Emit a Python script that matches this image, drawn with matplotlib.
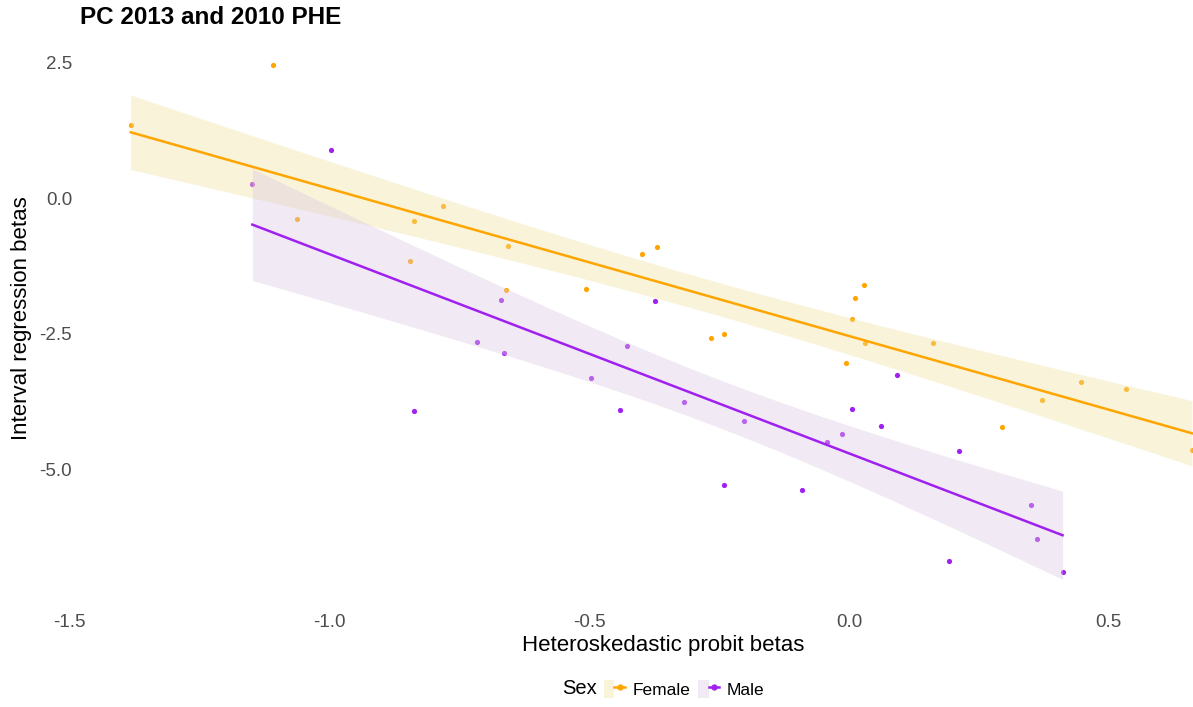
import numpy as np
import matplotlib
matplotlib.use("Agg")
import matplotlib.pyplot as plt
from matplotlib.lines import Line2D
from matplotlib.patches import Patch
from matplotlib.legend_handler import HandlerTuple

plt.rcParams['font.family'] = ['Liberation Sans', 'DejaVu Sans']
plt.rcParams['axes.unicode_minus'] = False

# data
female_x = [-1.382, -1.109, -1.063, -0.845, -0.837, -0.782, -0.660, -0.656,
            -0.506, -0.398, -0.370, -0.266, -0.241, -0.006, 0.006, 0.012,
            0.029, 0.031, 0.162, 0.295, 0.372, 0.447, 0.533, 0.660]
female_y = [1.342, 2.445, -0.386, -1.158, -0.423, -0.147, -1.691, -0.882,
            -1.673, -1.029, -0.901, -2.574, -2.500, -3.033, -2.224, -1.838,
            -1.599, -2.665, -2.665, -4.210, -3.713, -3.382, -3.511, -4.632]
male_x = [-1.148, -0.997, -0.837, -0.716, -0.669, -0.664, -0.496, -0.441,
          -0.427, -0.374, -0.317, -0.241, -0.202, -0.091, -0.043, -0.013,
          0.005, 0.062, 0.092, 0.212, 0.192, 0.351, 0.362, 0.411]
male_y = [0.252, 0.888, -3.915, -2.647, -1.881, -2.849, -3.314, -3.892,
          -2.721, -1.893, -3.756, -5.276, -4.105, -5.373, -4.491, -4.333,
          -3.879, -4.186, -3.254, -4.656, -6.673, -5.643, -6.281, -6.875]

x_ticks = [-1.5, -1.0, -0.5, 0.0, 0.5]
y_ticks = [2.5, 0.0, -2.5, -5.0]

series = [
    ("Female", female_x, female_y, "#FFA500", "#F0E1A0"),
    ("Male", male_x, male_y, "#A020F0", "#DCCAE1"),
]


def lm_band(x, y, t=2.074):
    x = np.asarray(x)
    y = np.asarray(y)
    b, a = np.polyfit(x, y, 1)
    n = len(x)
    resid = y - (a + b * x)
    s = np.sqrt(np.sum(resid ** 2) / (n - 2))
    xs = np.linspace(x.min(), x.max(), 80)
    fit = a + b * xs
    se = s * np.sqrt(1.0 / n + (xs - x.mean()) ** 2 / np.sum((x - x.mean()) ** 2))
    return xs, fit, fit - t * se, fit + t * se


W, H = 1193, 707
fig = plt.figure(figsize=(W / 100, H / 100), dpi=100)
ax = fig.add_axes([59 / W, 1 - 597 / H, (W - 59) / W, (597 - 40) / H])

handles = []
for name, xv, yv, col, fill in series:
    ax.scatter(xv, yv, s=14, color=col, linewidths=0, zorder=1)
    xs, fit, lo, hi = lm_band(xv, yv)
    ax.fill_between(xs, lo, hi, color=fill, alpha=0.4, linewidth=0, zorder=2)
    ax.plot(xs, fit, color=col, lw=1.8, zorder=3)
    handles.append((Patch(facecolor=fill, alpha=0.4, edgecolor='none'),
                    Line2D([], [], color=col, lw=1.8, marker='o', markersize=3.5)))

ax.set_xlim(-1.52, 0.662)
ax.set_ylim(-7.34, 2.91)
ax.set_xticks(x_ticks)
ax.set_xticklabels([f"{v:.1f}" for v in x_ticks])
ax.set_yticks(y_ticks)
ax.set_yticklabels([f"{v:.1f}" for v in y_ticks])
ax.tick_params(length=0, labelsize=13.5, labelcolor='#4d4d4d')
ax.tick_params(axis='x', pad=12)
ax.tick_params(axis='y', pad=-9.4)
for sp in ax.spines.values():
    sp.set_visible(False)

fig.text(663 / W, 1 - 645 / H, "Heteroskedastic probit betas", fontsize=16,
         ha='center', va='center')
fig.text(22 / W, 1 - 318 / H, "Interval regression betas", fontsize=16,
         ha='center', va='center', rotation=90)
fig.text(80 / W, 1 - 18 / H, "PC 2013 and 2010 PHE", fontsize=17.5,
         fontweight='bold', va='center', ha='left')

fig.text(562 / W, 1 - 689 / H, "Sex", fontsize=14.5, va='center', ha='left')
fig.legend(handles, ["Female", "Male"], ncol=2, frameon=False,
           handler_map={tuple: HandlerTuple(ndivide=None, pad=0)},
           loc='center left', bbox_to_anchor=(604 / W, 1 - 689 / H),
           fontsize=12.5, handlelength=1.2, handleheight=1.2, handletextpad=0.45,
           columnspacing=0.45, borderpad=0, borderaxespad=0)

fig.savefig("out.png", dpi=100)
